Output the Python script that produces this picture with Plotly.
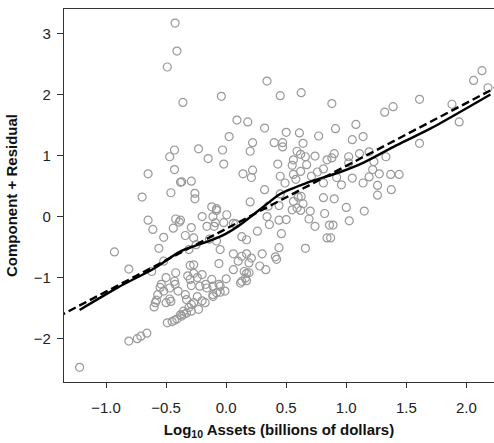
import plotly.graph_objects as go

# Scatter points: log10 assets (x) vs component + residual (y)
x_pts = [
    -0.425, -0.41, -0.49, -0.36, 0.34, -0.04, 0.45, 0.625, 0.88, 0.09,
    0.18, 0.32, 0.5, 0.61, 0.91, 0.025, 0.77, 2.13, 2.06, 2.18,
    1.61, 1.39, 1.32, 1.88, 1.94, 1.08, 1.05, 1.14, 1.61, 0.9,
    0.88, 1.02, 1.11, 1.19, 1.02, 1.23, 1.33, 0.92, 0.96, 1.05,
    1.14, 1.19, 1.22, 1.275, 1.37, 1.44, 1.26, 1.26, 1.375, 0.9,
    1.0, 1.15, 1.025, 0.89, 0.87, 0.86, -0.23, -0.03, 0.22, 0.2,
    0.4, 0.47, 0.64, 0.59, 0.62, 0.74, 0.84, -0.15, -0.02, 0.56,
    0.43, 0.55, 0.67, 0.81, 0.76, 0.14, 0.22, 0.21, 0.45, 0.56,
    0.62, 0.71, 0.49, 0.58, -0.37, -0.29, 0.81, 0.32, -0.26, -0.26,
    0.45, 0.625, 0.81, 0.2, 0.35, 0.44, 0.56, 0.59, 0.62, 0.7,
    -0.12, -0.08, -0.2, -0.11, 0.005, 0.34, 0.44, 0.5, 0.69, 0.82,
    -0.38, -0.29, -0.16, -0.1, -0.02, 0.06, 0.36, 0.74, 0.26, 0.46,
    -0.34, -0.27, -0.14, 0.13, 0.17, 0.84, -0.25, -0.05, 0.66, 0.44,
    0.06, 0.13, 0.17, 0.21, 0.30, 0.41, 0.10, 0.19, -0.27, -0.06,
    0.28, -0.43, -0.47, -0.43, -0.65, -0.38, -0.70, -0.46, -0.65, -0.61,
    -0.42, -0.39, -0.44, -0.52, -0.56, -0.93, -0.31, -0.52, -0.81, -0.08,
    -0.30, -0.27, -0.20, -0.24, -0.30, -0.29, -0.42, -0.43, -0.5, -0.54,
    -0.47, -0.40, -0.47, -0.55, -0.57, -0.59, -0.5, -0.33, -0.29, -0.24,
    -0.17, -0.12, -0.06, -0.11, -0.175, -0.33, -0.37, -0.41, -0.45, -0.49,
    -0.29, -0.23, 0.06, 0.13, 0.19, 0.0, -0.05, -0.01, -0.35, -0.43,
    -0.62, -0.32, -0.52, -0.425, -0.34, -0.58, -0.46, -0.6, -0.81, -0.74,
    -0.71, -0.66, -1.22, 0.15, 0.17, 0.16, 0.12, 0.17, 0.33, 0.42,
    -0.20, -0.11, -0.08, -0.16, -0.11, -0.05, -0.22, -0.27, -0.31, -0.355,
    -0.38, 0.47, 0.66, 0.60, 0.64, 0.55, -0.08, -0.09, 0.08,
]
y_pts = [
    3.17, 2.71, 2.45, 1.87, 2.22, 1.97, 1.98, 2.03, 1.85, 1.58,
    1.55, 1.45, 1.38, 1.37, 1.44, 1.31, 1.32, 2.39, 2.23, 2.11,
    1.92, 1.80, 1.71, 1.84, 1.55, 1.51, 1.26, 1.31, 1.20, 1.03,
    0.96, 0.98, 1.03, 1.06, 0.88, 0.90, 0.98, 0.64, 0.52, 0.63,
    0.55, 0.65, 0.77, 0.70, 0.69, 0.69, 0.51, 0.35, 0.44, 0.29,
    0.15, 0.09, -0.07, -0.14, -0.35, -0.14, 1.11, 1.09, 1.21, 1.07,
    1.21, 1.21, 1.20, 1.07, 1.02, 0.99, 0.93, 0.95, 0.86, 0.93,
    0.86, 0.84, 0.85, 0.78, 0.73, 0.70, 0.76, 0.64, 0.66, 0.69,
    0.74, 0.66, 0.55, 0.61, 0.57, 0.58, 0.55, 0.44, 0.38, 0.29,
    0.37, 0.33, 0.31, 0.24, 0.17, 0.18, 0.25, 0.14, 0.10, 0.09,
    0.16, 0.13, 0.0, 0.0, 0.03, 0.0, -0.06, -0.05, -0.04, 0.05,
    -0.06, -0.18, -0.16, -0.16, -0.10, -0.11, -0.13, -0.16, -0.24, -0.28,
    -0.31, -0.35, -0.37, -0.33, -0.38, -0.35, -0.46, -0.54, -0.52, -0.51,
    -0.61, -0.65, -0.61, -0.68, -0.61, -0.66, -0.73, -0.76, -0.79, -0.77,
    -0.81, 1.09, 0.98, 0.77, 0.70, 0.56, 0.32, 0.39, -0.06, -0.21,
    -0.04, -0.09, -0.19, -0.34, -0.52, -0.58, -0.54, -0.73, -0.86, -0.40,
    -0.80, -0.93, -0.95, -1.0, -1.03, -1.13, -0.92, -1.06, -1.0, -1.11,
    -1.17, -1.22, -1.35, -1.16, -1.28, -1.41, -1.41, -1.36, -1.44, -1.31,
    -1.11, -1.03, -1.11, -1.28, -1.41, -1.58, -1.63, -1.68, -1.72, -1.74,
    -1.55, -1.52, -0.87, -1.06, -0.92, -1.02, -1.24, -1.22, -1.60, -1.70,
    -0.90, -0.97, -1.22, -1.11, -1.28, -1.37, -1.39, -1.48, -2.04, -2.0,
    -1.96, -1.91, -2.47, -0.90, -0.93, -1.01, -1.09, -1.05, -0.87, -0.70,
    -1.38, -1.31, -1.25, -1.17, -1.14, -1.14, -1.14, -1.41, -1.49, -1.55,
    -1.61, 1.14, 0.98, 0.32, 0.21, 0.11, 0.10, -0.10, -0.12,
]

# Least-squares line (dashed)
fit_intercept = -0.2
fit_slope = 1.03

# Lowess smooth (solid)
smooth_x = [-1.22, -0.9, -0.6, -0.38, -0.2, -0.1, 0.0, 0.12, 0.31, 0.45,
            0.67, 0.95, 1.14, 1.42, 1.7, 1.98, 2.2]
smooth_y = [-1.53, -1.16, -0.85, -0.57, -0.44, -0.37, -0.28, -0.13, 0.16, 0.37,
            0.55, 0.73, 0.88, 1.17, 1.44, 1.75, 2.0]

x_range = [-1.35, 2.23]
y_range = [-2.71, 3.40]

x_ticks = [-1.0, -0.5, 0.0, 0.5, 1.0, 1.5, 2.0]
y_ticks = [-2, -1, 0, 1, 2, 3]

fit_x = [x_range[0] - 0.05, x_range[1] + 0.05]
fit_y = [fit_intercept + fit_slope * v for v in fit_x]

fig = go.Figure()
fig.add_trace(go.Scatter(
    x=x_pts, y=y_pts, mode="markers",
    marker=dict(symbol="circle-open", size=8, color="#999999",
                line=dict(width=1.2, color="#999999")),
    hoverinfo="skip", showlegend=False,
))
fig.add_trace(go.Scatter(
    x=fit_x, y=fit_y, mode="lines",
    line=dict(color="black", width=2.4, dash="8px,4px"),
    showlegend=False, hoverinfo="skip",
))
fig.add_trace(go.Scatter(
    x=smooth_x, y=smooth_y, mode="lines",
    line=dict(color="black", width=2.4, shape="spline", smoothing=0.8),
    showlegend=False, hoverinfo="skip",
))

font_family = "Liberation Sans, Arial, Helvetica, sans-serif"

fig.update_layout(
    width=494, height=443,
    margin=dict(l=64, r=0, t=9, b=61),
    paper_bgcolor="white", plot_bgcolor="white",
    font=dict(family=font_family, size=15, color="#222222"),
    xaxis=dict(
        range=x_range, tickvals=x_ticks, tickformat=".1f",
        showgrid=False, zeroline=False,
        showline=True, linecolor="#333333", linewidth=1.3, mirror=True,
        ticks="outside", ticklen=5, tickcolor="#333333", tickwidth=1.2,
        ticklabelstandoff=7,
        title=dict(text="<b>Log<sub>10</sub> Assets (billions of dollars)</b>",
                   font=dict(size=15, color="#111111"), standoff=9),
    ),
    yaxis=dict(
        range=y_range, tickvals=y_ticks,
        showgrid=False, zeroline=False,
        showline=True, linecolor="#333333", linewidth=1.3, mirror=False,
        ticks="outside", ticklen=6, tickcolor="#333333", tickwidth=1.2,
        ticklabelstandoff=3,
        title=dict(text="<b>Component + Residual</b>",
                   font=dict(size=15, color="#111111"), standoff=12),
    ),
)

fig.write_html("out.html")
